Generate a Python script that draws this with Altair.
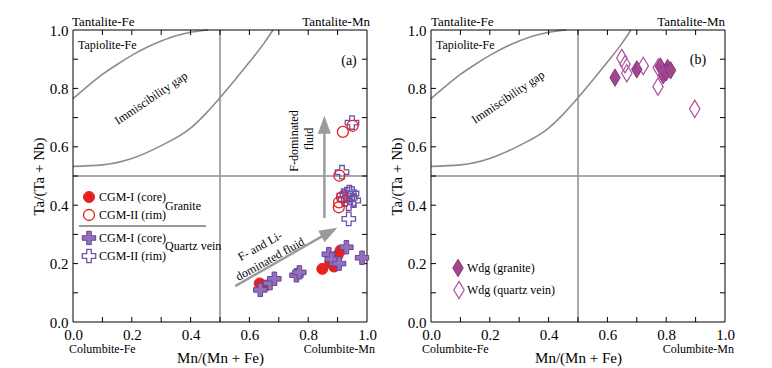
import altair as alt
import pandas as pd

FONT = "'Liberation Serif', 'Times New Roman', serif"
W, H = 294, 292
TICK = 5

# ---------------- data ----------------
upper_x = [0.0, 0.05, 0.10, 0.15, 0.20, 0.25, 0.30, 0.35, 0.40, 0.46]
upper_y = [0.765, 0.808, 0.848, 0.882, 0.913, 0.940, 0.962, 0.980, 0.992, 1.0]
lower_x = [0.0, 0.10, 0.20, 0.30, 0.40, 0.45, 0.50, 0.55, 0.60, 0.65, 0.68]
lower_y = [0.533, 0.538, 0.560, 0.604, 0.664, 0.712, 0.768, 0.828, 0.890, 0.955, 1.0]

tick_values = [0.1, 0.2, 0.3, 0.4, 0.5, 0.6, 0.7, 0.8, 0.9]
label_values = [0.0, 0.2, 0.4, 0.6, 0.8, 1.0]
ref_value = [0.5]

# panel (a)
gran_core_x = [0.635, 0.655, 0.848, 0.875, 0.888, 0.900, 0.910]
gran_core_y = [0.132, 0.125, 0.182, 0.205, 0.190, 0.228, 0.245]
gran_rim_x = [0.918, 0.951, 0.906, 0.904, 0.905, 0.915]
gran_rim_y = [0.651, 0.672, 0.501, 0.393, 0.410, 0.427]
vein_core_x = [0.637, 0.670, 0.685, 0.760, 0.770, 0.870, 0.880, 0.905, 0.930, 0.983]
vein_core_y = [0.110, 0.133, 0.148, 0.160, 0.170, 0.232, 0.215, 0.200, 0.256, 0.220]
vein_rim_x = [0.949, 0.915, 0.932, 0.949, 0.926, 0.943, 0.955, 0.938, 0.921, 0.940, 0.938]
vein_rim_y = [0.683, 0.513, 0.438, 0.440, 0.421, 0.425, 0.416, 0.405, 0.433, 0.445, 0.353]

# panel (b)
wdg_gran_x = [0.626, 0.700, 0.780, 0.805, 0.790, 0.800, 0.815]
wdg_gran_y = [0.837, 0.865, 0.875, 0.870, 0.845, 0.855, 0.862]
wdg_vein_x = [0.649, 0.660, 0.666, 0.722, 0.773, 0.772, 0.897]
wdg_vein_y = [0.904, 0.883, 0.852, 0.877, 0.871, 0.806, 0.730]

# fluid arrows (panel a)
f_arrow_x = [0.855, 0.855]
f_arrow_y = [0.356, 0.672]
li_arrow_x = [0.552, 0.869]
li_arrow_y = [0.123, 0.306]

# ---------------- styles ----------------
RED = "#e8211f"
PURPLE_FILL = "#9470b8"
PURPLE_EDGE = "#64469a"
PURPLE_OPEN = "#6f4fa8"
MAG_FILL = "#a0468f"
MAG_EDGE = "#86357a"
MAG_OPEN = "#b04ea0"
GRAY = "#8c8c8c"

CROSS = ("M-0.34,-1L0.34,-1L0.34,-0.34L1,-0.34L1,0.34L0.34,0.34L0.34,1L-0.34,1"
         "L-0.34,0.34L-1,0.34L-1,-0.34L-0.34,-0.34Z")
DIAMOND = "M0,-1L0.6,0L0,1L-0.6,0Z"
HEAD = "M0,-1L0.72,1L-0.72,1Z"

x_axis = alt.Axis(values=label_values, format=".1f", ticks=False, domain=False, grid=False,
                  labelFlush=False, labelFont=FONT, labelFontSize=15, labelColor="black",
                  labelPadding=5, title="Mn/(Mn + Fe)", titleFont=FONT, titleFontSize=15,
                  titleFontWeight="normal", titleColor="black", titlePadding=8)
y_axis = alt.Axis(values=label_values, format=".1f", ticks=False, domain=False, grid=False,
                  labelFont=FONT, labelFontSize=15, labelColor="black", labelPadding=5,
                  title="Ta/(Ta + Nb)", titleFont=FONT, titleFontSize=15,
                  titleFontWeight="normal", titleColor="black", titlePadding=3)


def sc():
    return alt.Scale(domain=[0, 1], nice=False, zero=False)


def X(field="x"):
    return alt.X(f"{field}:Q", scale=sc(), axis=x_axis)


def Y(field="y"):
    return alt.Y(f"{field}:Q", scale=sc(), axis=y_axis)


def curves_layer():
    rows = []
    for i, (x, y) in enumerate(zip(upper_x, upper_y)):
        rows.append({"c": "upper", "i": i, "x": x, "y": y})
    for i, (x, y) in enumerate(zip(lower_x, lower_y)):
        rows.append({"c": "lower", "i": i, "x": x, "y": y})
    return alt.Chart(pd.DataFrame(rows)).mark_line(
        color=GRAY, strokeWidth=1.6, interpolate="monotone").encode(
        x=X(), y=Y(), detail="c:N", order="i:Q")


def ref_layers():
    d = pd.DataFrame({"x": ref_value, "y": ref_value})
    v = alt.Chart(d).mark_rule(color=GRAY, strokeWidth=1.5).encode(x=X())
    h = alt.Chart(d).mark_rule(color=GRAY, strokeWidth=1.5).encode(y=Y())
    return [v, h]


def tick_layers():
    d = pd.DataFrame({"x": tick_values, "y": tick_values})
    r = lambda: alt.Chart(d).mark_rule(color="black", strokeWidth=1)
    return [
        r().encode(x=X(), y=alt.value(H), y2=alt.value(H - TICK)),
        r().encode(x=X(), y=alt.value(0), y2=alt.value(TICK)),
        r().encode(y=Y(), x=alt.value(0), x2=alt.value(TICK)),
        r().encode(y=Y(), x=alt.value(W), x2=alt.value(W - TICK)),
    ]


def frame_layers():
    d = pd.DataFrame({"t": ["f"]})
    r = lambda: alt.Chart(d).mark_rule(color="black", strokeWidth=1)
    return [
        r().encode(x=alt.value(0), x2=alt.value(W), y=alt.value(0)),
        r().encode(x=alt.value(0), x2=alt.value(W), y=alt.value(H)),
        r().encode(y=alt.value(0), y2=alt.value(H), x=alt.value(0)),
        r().encode(y=alt.value(0), y2=alt.value(H), x=alt.value(W)),
    ]


def pts(xs, ys, **mark):
    d = pd.DataFrame({"x": xs, "y": ys})
    return alt.Chart(d).mark_point(opacity=1, **mark).encode(x=X(), y=Y())


def txt(s, px, py, size=12, align="left", angle=0, baseline="middle"):
    d = pd.DataFrame({"t": [s]})
    return alt.Chart(d).mark_text(font=FONT, fontSize=size, align=align, baseline=baseline,
                                  angle=angle, color="black").encode(
        x=alt.value(px), y=alt.value(py), text="t:N")


def legend_pt(px, py, **mark):
    d = pd.DataFrame({"t": ["m"]})
    return alt.Chart(d).mark_point(opacity=1, **mark).encode(x=alt.value(px), y=alt.value(py))


def arrow(xs, ys, angle):
    d = pd.DataFrame({"x": xs, "y": ys})
    line = alt.Chart(d).mark_line(color="#9a9a9a", strokeWidth=2.4).encode(x=X(), y=Y())
    hd = pd.DataFrame({"x": [xs[-1]], "y": [ys[-1]]})
    head = alt.Chart(hd).mark_point(shape=HEAD, filled=True, fill="#9a9a9a", stroke="#9a9a9a",
                                    size=200, angle=angle, opacity=1).encode(x=X(), y=Y())
    return [line, head]


GRAN_CORE = dict(shape="circle", filled=True, fill=RED, stroke=RED, strokeWidth=1, size=121)
GRAN_RIM = dict(shape="circle", filled=False, stroke=RED, strokeWidth=1.3, size=121)
VEIN_CORE = dict(shape=CROSS, filled=True, fill=PURPLE_FILL, stroke=PURPLE_EDGE, strokeWidth=1, size=180)
VEIN_RIM = dict(shape=CROSS, filled=False, stroke=PURPLE_OPEN, strokeWidth=1.3, size=180)
WDG_GRAN = dict(shape=DIAMOND, filled=True, fill=MAG_FILL, stroke=MAG_EDGE, strokeWidth=1, size=300)
WDG_VEIN = dict(shape=DIAMOND, filled=False, stroke=MAG_OPEN, strokeWidth=1.2, size=300)


def common_text(tag, tagx, tagy, cfe_x, cmn_x, tfe_x, tmn_x, imm_x, imm_y):
    return [
        txt("Tantalite-Fe", tfe_x, -8, size=13),
        txt("Tantalite-Mn", tmn_x, -8, size=13, align="right"),
        txt("Tapiolite-Fe", 5, 15),
        txt(tag, tagx, tagy, size=14, align="center"),
        txt("Immiscibility gap", imm_x, imm_y, size=12, align="center", angle=326),
        txt("Columbite-Fe", cfe_x, 319),
        txt("Columbite-Mn", cmn_x, 319, align="right"),
    ]


# ---------------- panel (a) ----------------
layers_a = [curves_layer()] + ref_layers() + tick_layers() + frame_layers()
layers_a += arrow(f_arrow_x, f_arrow_y, 0) + arrow(li_arrow_x, li_arrow_y, 61)
layers_a += [
    pts(gran_core_x, gran_core_y, **GRAN_CORE),
    pts(vein_core_x, vein_core_y, **VEIN_CORE),
    pts(vein_rim_x, vein_rim_y, **VEIN_RIM),
    pts(gran_rim_x, gran_rim_y, **GRAN_RIM),
]
layers_a += common_text("(a)", 276, 31, -4, 302, -1, 297, 78, 68)
layers_a += [
    txt("F-dominated", 221, 111, angle=270, align="center"),
    txt("fluid", 236, 109, angle=270, align="center"),
    txt("F- and Li-", 187, 216, angle=331, align="center"),
    txt("dominated fluid", 197, 229, angle=331, align="center"),
    # legend
    legend_pt(16, 167, **GRAN_CORE),
    legend_pt(16, 185, **GRAN_RIM),
    legend_pt(16, 208, **VEIN_CORE),
    legend_pt(16, 226, **VEIN_RIM),
    txt("CGM-I (core)", 26, 167),
    txt("CGM-II (rim)", 26, 185),
    txt("CGM-I (core)", 26, 208),
    txt("CGM-II (rim)", 26, 226),
    txt("Granite", 92, 176),
    txt("Quartz vein", 92, 216),
    alt.Chart(pd.DataFrame({"t": ["sep"]})).mark_rule(color="#333333", strokeWidth=1).encode(
        x=alt.value(6), x2=alt.value(133), y=alt.value(196)),
]
panel_a = alt.layer(*layers_a).properties(width=W, height=H)

# ---------------- panel (b) ----------------
layers_b = [curves_layer()] + ref_layers() + tick_layers() + frame_layers()
layers_b += [
    pts(wdg_gran_x, wdg_gran_y, **WDG_GRAN),
    pts(wdg_vein_x, wdg_vein_y, **WDG_VEIN),
]
layers_b += common_text("(b)", 267, 30, -9, 303, 0, 294, 77, 67)
layers_b += [
    legend_pt(27, 238, **WDG_GRAN),
    legend_pt(28, 260, **WDG_VEIN),
    txt("Wdg (granite)", 36, 238),
    txt("Wdg (quartz vein)", 36, 260),
]
panel_b = alt.layer(*layers_b).properties(width=W, height=H)

chart = alt.hconcat(panel_a, panel_b, spacing=64, bounds="flush").properties(
    padding={"left": 23, "top": 8, "right": 5, "bottom": 5}
).configure_view(stroke=None)

chart.save("out.html", embed_options={"renderer": "svg", "actions": False})
